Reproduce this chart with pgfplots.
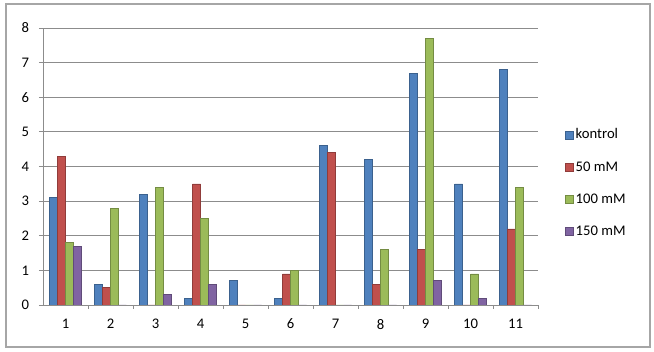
\documentclass[border=0pt]{standalone}
\usepackage{pgfplots}
\pgfplotsset{compat=1.18}
\usepackage{fontspec}
\setmainfont{Carlito}
\definecolor{cA}{HTML}{4F81BD}
\definecolor{cB}{HTML}{C0504D}
\definecolor{cC}{HTML}{9BBB59}
\definecolor{cD}{HTML}{8064A2}
\definecolor{gridc}{HTML}{8C8C8C}
\definecolor{framec}{HTML}{A6A6A6}
\pgfplotstableread{
cat kontrol m50 m100 m150
1  3.1 4.3 1.8 1.7
2  0.6 0.5 2.8 0
3  3.2 0   3.4 0.3
4  0.2 3.5 2.5 0.6
5  0.7 0   0   0
6  0.2 0.9 1.0 0
7  4.6 4.4 0   0
8  4.2 0.6 1.6 0
9  6.7 1.6 7.7 0.7
10 3.5 0   0.9 0.2
11 6.8 2.2 3.4 0
}\datatable
\begin{document}
\begin{tikzpicture}
\path (0,0) rectangle (490.5pt,264pt);
\draw[framec, line width=0.8pt] (4.5pt,3.75pt) rectangle (487.5pt,261pt);
\begin{axis}[
  at={(32.25pt,35.25pt)}, anchor=south west,
  scale only axis,
  width=371.25pt, height=207.75pt,
  ybar=0pt, bar width=6pt,
  xmin=0.5, xmax=11.5,
  ymin=0, ymax=8,
  xtick={1,...,11},
  minor xtick={1.5,2.5,...,10.5,11.5},
  ytick={0,...,8},
  major x tick style={draw=none},
  minor x tick style={draw=gridc, line width=0.6pt},
  major y tick style={draw=gridc, line width=0.6pt},
  tick align=outside,
  major tick length=3pt, minor tick length=3pt,
  ymajorgrids,
  grid style={draw=gridc, line width=0.7pt},
  axis x line*=bottom, axis y line*=left,
  axis line style={draw=gridc, line width=0.7pt, -},
  tick label style={font=\fontsize{11}{13}\selectfont},
  /pgf/number format/assume math mode=true,
  xticklabel style={yshift=-4pt},
  yticklabel style={xshift=-4pt},
  legend style={at={(1.045,0.44)}, anchor=west, draw=none, fill=none,
    font=\fontsize{11}{13}\selectfont, row sep=11.5pt,
    legend cell align=left},
  legend image code/.code={\fill[#1] (0pt,-3pt) rectangle (6pt,3pt);},
]
\addplot[fill=cA, draw=cA!75!black, line width=0.4pt] table[x=cat,y=kontrol]{\datatable};
\addplot[fill=cB, draw=cB!75!black, line width=0.4pt] table[x=cat,y=m50]{\datatable};
\addplot[fill=cC, draw=cC!75!black, line width=0.4pt] table[x=cat,y=m100]{\datatable};
\addplot[fill=cD, draw=cD!75!black, line width=0.4pt] table[x=cat,y=m150]{\datatable};
\legend{kontrol, 50 mM, 100 mM, 150 mM}
\end{axis}
\end{tikzpicture}
\end{document}
